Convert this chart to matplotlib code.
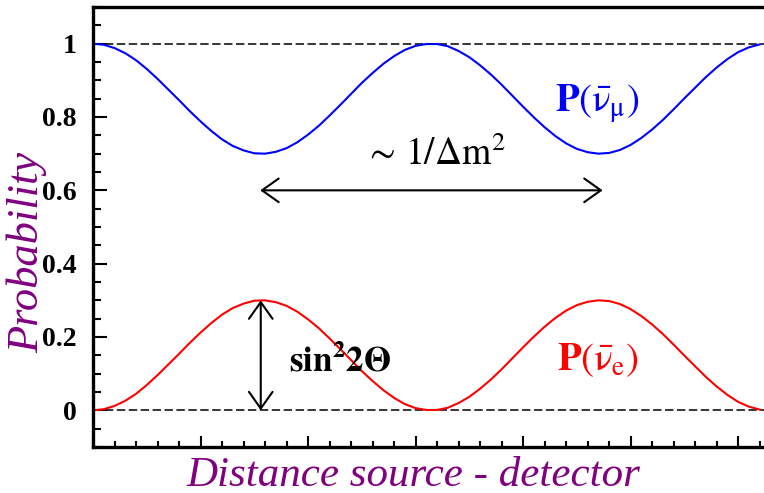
import matplotlib
matplotlib.use("Agg")
import matplotlib.pyplot as plt
from matplotlib.ticker import MultipleLocator

plt.rcParams["mathtext.fontset"] = "stix"
plt.rcParams["font.family"] = ["Liberation Serif", "DejaVu Serif"]

# distancia (unidades arbitrarias) y probabilidades
distance = [0.0, 0.1, 0.2, 0.3, 0.4, 0.5, 0.6, 0.7, 0.8, 0.9, 1.0, 1.1, 1.2, 1.3, 1.4, 1.5,
            1.6, 1.7, 1.8, 1.9, 2.0, 2.1, 2.2, 2.3, 2.4, 2.5, 2.6, 2.7, 2.8, 2.9, 3.0, 3.1,
            3.2, 3.3, 3.4, 3.5, 3.6, 3.7, 3.8, 3.9, 4.0, 4.1, 4.2, 4.3, 4.4, 4.5, 4.6, 4.7,
            4.8, 4.9, 5.0, 5.1, 5.2, 5.3, 5.4, 5.5, 5.6, 5.7, 5.8, 5.9, 6.0, 6.1, 6.2]
p_mu = [1.000, 0.997, 0.988, 0.974, 0.955, 0.931, 0.904, 0.875, 0.846, 0.816, 0.788,
        0.762, 0.739, 0.721, 0.709, 0.701, 0.700, 0.705, 0.715, 0.731, 0.752, 0.776,
        0.804, 0.833, 0.863, 0.893, 0.920, 0.945, 0.966, 0.983, 0.994, 0.999, 0.999,
        0.993, 0.980, 0.963, 0.941, 0.916, 0.888, 0.858, 0.828, 0.799, 0.772, 0.748,
        0.728, 0.713, 0.704, 0.700, 0.702, 0.710, 0.724, 0.743, 0.766, 0.792, 0.821,
        0.851, 0.880, 0.909, 0.935, 0.958, 0.977, 0.990, 0.998]
p_e = [0.000, 0.003, 0.012, 0.026, 0.045, 0.069, 0.096, 0.125, 0.154, 0.184, 0.212,
       0.238, 0.261, 0.279, 0.291, 0.299, 0.300, 0.295, 0.285, 0.269, 0.248, 0.224,
       0.196, 0.167, 0.137, 0.107, 0.080, 0.055, 0.034, 0.017, 0.006, 0.001, 0.001,
       0.007, 0.020, 0.037, 0.059, 0.084, 0.112, 0.142, 0.172, 0.201, 0.228, 0.252,
       0.272, 0.287, 0.296, 0.300, 0.298, 0.290, 0.276, 0.257, 0.234, 0.208, 0.179,
       0.149, 0.120, 0.091, 0.065, 0.042, 0.023, 0.010, 0.002]

purple = "#800080"

fig = plt.figure(figsize=(7.64, 4.93), dpi=100)
ax = fig.add_axes([93 / 764, 46 / 493, 1 - 93 / 764, 440 / 493])

ax.axhline(1.0, color="black", lw=1.1, ls=(0, (5.5, 2.3)))
ax.axhline(0.0, color="black", lw=1.1, ls=(0, (5.5, 2.3)))
ax.plot(distance, p_mu, color="#0000ff", lw=1.5)
ax.plot(distance, p_e, color="#ff0000", lw=1.5)

ax.set_xlim(0, 6.24)
ax.set_ylim(-0.1, 1.1)

ax.xaxis.set_major_locator(MultipleLocator(1))
ax.xaxis.set_minor_locator(MultipleLocator(0.2))
ax.yaxis.set_major_locator(MultipleLocator(0.2))
ax.yaxis.set_minor_locator(MultipleLocator(0.05))
ax.set_xticklabels([])
ax.set_yticks([0, 0.2, 0.4, 0.6, 0.8, 1.0])
ax.set_yticklabels(["0", "0.2", "0.4", "0.6", "0.8", "1"], fontsize=20, fontweight="bold")
ax.tick_params(axis="x", which="major", direction="in", length=8, width=1.5)
ax.tick_params(axis="x", which="minor", direction="in", length=4.5, width=1.5)
ax.tick_params(axis="y", which="major", direction="in", length=10, width=1.5, pad=12)
ax.tick_params(axis="y", which="minor", direction="in", length=5.5, width=1.5)
ax.spines["right"].set_visible(False)
for s in ["left", "bottom", "top"]:
    ax.spines[s].set_linewidth(2.4)

# flechas
arrow = dict(arrowstyle="<->,head_length=1.2,head_width=0.85", lw=1.5, color="black",
             shrinkA=0, shrinkB=0, mutation_scale=10)
ax.annotate("", xy=(1.555, 0.6), xytext=(4.74, 0.6), arrowprops=arrow)
ax.annotate("", xy=(1.56, 0.3), xytext=(1.56, 0.0), arrowprops=arrow)

ax.text(3.18, 0.67, r"$\sim\,1/\Delta\mathrm{m}^2$", fontsize=27, ha="center", va="baseline")
ax.text(2.30, 0.106, r"$\mathbf{sin^2 2\Theta}$", fontsize=25, ha="center", va="baseline")
ax.text(4.69, 0.815, r"$\mathbf{P}(\bar{\mathrm{\nu}}_{\mathrm{\mu}})$", fontsize=28,
        color="#0000ff", ha="center", va="baseline")
ax.text(4.70, 0.11, r"$\mathbf{P}(\bar{\mathrm{\nu}}_{\mathrm{e}})$", fontsize=28,
        color="#ff0000", ha="center", va="baseline")

fig.text(27 / 764, 1 - 252 / 493, "Probability", rotation=90, fontsize=32, style="italic",
         color=purple, ha="center", va="center")
fig.text(413 / 764, 7 / 493, "Distance source - detector", fontsize=31, style="italic",
         color=purple, ha="center", va="baseline")

fig.savefig("out.png", dpi=100)
